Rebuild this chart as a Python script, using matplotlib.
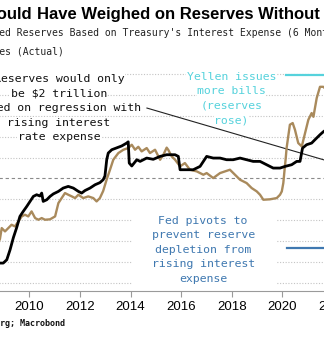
import matplotlib.pyplot as plt
from matplotlib.patches import Rectangle
import numpy as np

# predicted reserves from interest expense regression ($ trillions)
pred_t = [2008.40, 2008.84, 2008.97, 2009.11, 2009.24, 2009.37, 2009.50, 2009.63, 2009.76, 2009.90,
          2010.03, 2010.16, 2010.29, 2010.42, 2010.49, 2010.55, 2010.69, 2010.82, 2010.95, 2011.15,
          2011.34, 2011.54, 2011.74, 2011.94, 2012.07, 2012.20, 2012.40, 2012.60, 2012.79, 2012.92,
          2012.99, 2013.06, 2013.12, 2013.26, 2013.52, 2013.65, 2013.85, 2013.91, 2013.95, 2014.05,
          2014.25, 2014.38, 2014.64, 2014.90, 2015.17, 2015.43, 2015.76, 2015.89, 2015.96, 2016.22,
          2016.48, 2016.75, 2017.01, 2017.27, 2017.54, 2017.80, 2018.06, 2018.33, 2018.59, 2018.85,
          2019.12, 2019.38, 2019.64, 2019.91, 2020.11, 2020.37, 2020.57, 2020.70, 2020.80, 2020.96,
          2021.16, 2021.29, 2021.49, 2021.62, 2021.80]
pred_v = [0.02, -0.03, -0.03, 0.05, 0.29, 0.58, 0.82, 1.09, 1.21, 1.33,
          1.45, 1.57, 1.61, 1.58, 1.65, 1.45, 1.49, 1.57, 1.63, 1.69,
          1.77, 1.81, 1.77, 1.69, 1.65, 1.71, 1.77, 1.85, 1.90, 1.97,
          2.06, 2.45, 2.61, 2.69, 2.75, 2.78, 2.85, 2.88, 2.37, 2.30,
          2.45, 2.41, 2.49, 2.46, 2.53, 2.57, 2.57, 2.53, 2.21, 2.21,
          2.21, 2.29, 2.53, 2.49, 2.49, 2.45, 2.45, 2.49, 2.45, 2.41,
          2.41, 2.33, 2.25, 2.25, 2.29, 2.33, 2.41, 2.41, 2.73, 2.81,
          2.85, 2.93, 3.05, 3.12, 3.20]

# actual reserves ($ trillions)
act_t = [2008.70, 2008.84, 2008.91, 2009.04, 2009.17, 2009.30, 2009.43, 2009.57, 2009.70, 2009.83,
         2009.96, 2010.09, 2010.23, 2010.36, 2010.49, 2010.62, 2010.82, 2011.02, 2011.15, 2011.28,
         2011.41, 2011.54, 2011.68, 2011.81, 2011.94, 2012.13, 2012.33, 2012.53, 2012.66, 2012.79,
         2012.92, 2013.06, 2013.19, 2013.32, 2013.52, 2013.72, 2013.91, 2014.05, 2014.18, 2014.31,
         2014.44, 2014.64, 2014.77, 2014.97, 2015.17, 2015.30, 2015.43, 2015.49, 2015.63, 2015.76,
         2015.96, 2016.15, 2016.35, 2016.62, 2016.88, 2017.01, 2017.27, 2017.54, 2017.93, 2018.13,
         2018.33, 2018.59, 2018.79, 2018.99, 2019.12, 2019.25, 2019.51, 2019.78, 2019.91, 2019.98,
         2020.04, 2020.09, 2020.13, 2020.17, 2020.30, 2020.41, 2020.50, 2020.63, 2020.77, 2020.90,
         2021.03, 2021.16, 2021.23, 2021.36, 2021.49, 2021.62, 2021.80]
act_v = [0.35, 0.55, 0.81, 0.73, 0.81, 0.89, 0.85, 0.97, 1.09, 1.13,
         1.09, 1.21, 1.05, 1.01, 1.05, 1.01, 1.02, 1.09, 1.41, 1.53,
         1.65, 1.61, 1.57, 1.53, 1.61, 1.53, 1.57, 1.53, 1.45, 1.53,
         1.70, 1.98, 2.21, 2.45, 2.61, 2.69, 2.73, 2.81, 2.69, 2.76,
         2.65, 2.73, 2.61, 2.69, 2.45, 2.57, 2.74, 2.69, 2.53, 2.45,
         2.29, 2.37, 2.21, 2.17, 2.09, 2.13, 2.01, 2.13, 2.21, 2.09,
         1.97, 1.89, 1.77, 1.69, 1.61, 1.49, 1.50, 1.53, 1.61, 1.69,
         1.89, 2.21, 2.45, 2.73, 3.29, 3.33, 3.17, 2.85, 2.77, 3.09,
         3.41, 3.57, 3.48, 3.93, 4.20, 4.20, 4.10]

year_ticks = list(range(2010, 2024, 2))
grid_levels = [-0.5, 0.0, 0.5, 1.0, 1.5, 2.5, 3.0, 3.5, 4.0, 4.5]
ref_level = 2.0

title_a = "Bills Would"
title_b = "Have Weighed on Reserves Without Yellen"
sub1 = "Predicted Reserves Based on Treasury's Interest Expense (6 Month Lag)"
sub2 = "Reserves (Actual)"
source = "Source: Bloomberg; Macrobond"
note_black = ["Reserves would only", "be \\$2 trillion", "based on regression with",
              "rising interest", "rate expense"]
note_cyan = ["Yellen issues", "more bills", "(reserves", "rose)"]
note_blue = ["Fed pivots to", "prevent reserve", "depletion from", "rising interest", "expense"]

GOLD = '#a98a5c'
CYAN = '#56d2dc'
BLUE = '#3f78b0'
MONO = 'DejaVu Sans Mono'

W, H = 324, 343
fig = plt.figure(figsize=(W / 100, H / 100), dpi=100)
ax = fig.add_axes([-21.3 / W, (H - 291) / H, 392.15 / W, 229.2 / H])
ax.set_xlim(2008, 2023.5)
ax.set_ylim(-0.7, 4.8)

for g in grid_levels:
    ax.axhline(g, color='#c4c4c4', lw=0.8, ls=(0, (1, 1.5)), zorder=1)
ax.axhline(ref_level, color='#8a8a8a', lw=0.8, ls=(0, (3, 2.5)), zorder=1)

ax.plot(act_t, act_v, color=GOLD, lw=1.7, zorder=3)
ax.plot(pred_t, pred_v, color='black', lw=2.0, zorder=4)

# annotation blocks
def block(lines, x, y0, color, dy=0.35, box=True):
    for i, s in enumerate(lines):
        kw = dict(facecolor='white', edgecolor='none', pad=0.3) if box else None
        ax.text(x, y0 - i * dy, s, family=MONO, fontsize=8.25, color=color,
                ha='center', va='center', bbox=kw, zorder=2)

block(note_black, 2011.17, 4.39, '#111111')
block(note_cyan, 2017.99, 4.44, CYAN)
ax.add_patch(Rectangle((2014.06, -0.68), 5.73, 2.0, facecolor='white',
                       edgecolor='none', zorder=1.8))
block(note_blue, 2016.87, 0.99, BLUE, box=False)

ax.plot([2014.65, 2022.3], [3.69, 2.33], color='#222222', lw=0.8, zorder=2.5)
ax.plot([2020.15, 2022.5], [4.48, 4.48], color=CYAN, lw=1.6, zorder=2.5)
ax.plot([2020.18, 2022.5], [0.34, 0.34], color=BLUE, lw=1.6, zorder=2.5)

for side in ['left', 'right', 'top']:
    ax.spines[side].set_visible(False)
ax.spines['bottom'].set_color('#9a9a9a')
ax.set_yticks([])
ax.set_xticks(year_ticks)
ax.set_xticklabels([str(y) for y in year_ticks], family='Liberation Sans', fontsize=9.5)
ax.tick_params(axis='x', length=4, color='#9a9a9a', pad=3)

# header and footer
def px(x, y):
    return x / W, 1 - y / H

fig.text(*px(32, 19), title_a, ha='right', va='baseline', fontsize=12.0,
         fontweight='bold', family='Liberation Sans')
fig.text(*px(37, 19), title_b, ha='left', va='baseline',
         fontsize=12.0, fontweight='bold', family='Liberation Sans')
fig.text(*px(-41.5, 33), sub1, ha='left', va='center', family=MONO, fontsize=7.05, color='#222222')
fig.text(*px(-36.5, 51), sub2, ha='left', va='center', family=MONO, fontsize=7.05, color='#222222')
fig.text(*px(-75, 323), source, ha='left', va='center', family=MONO, fontsize=6.0,
         fontweight='bold', color='#111111')

fig.savefig('out.png', dpi=100)
